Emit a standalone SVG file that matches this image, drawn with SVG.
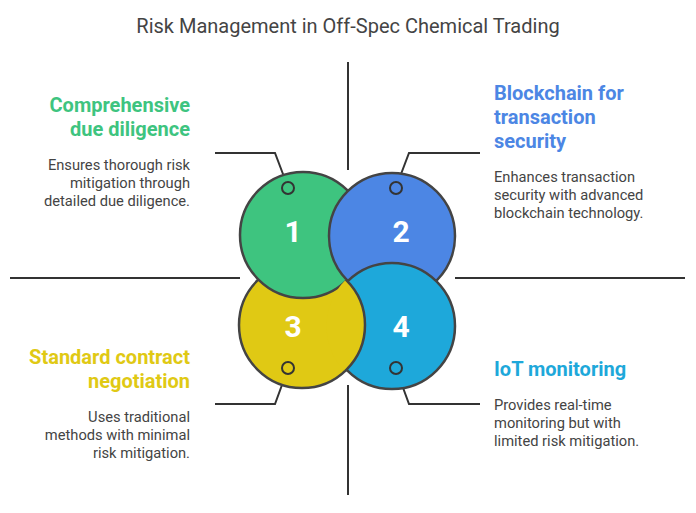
<svg xmlns="http://www.w3.org/2000/svg" width="696" height="513" viewBox="0 0 696 513">
<style>
text{font-family:Roboto,"Liberation Sans",sans-serif}
.ln{stroke:#333;stroke-width:2;fill:none}
.c{stroke:#444;stroke-width:2.5}
.num{font-size:30px;font-weight:bold;fill:#fff;text-anchor:middle}
.h{font-size:20px;font-weight:bold}
.d{font-size:14.7px;fill:#444}
.dot{fill:none;stroke:#333;stroke-width:2}
</style>
<defs><clipPath id="low"><circle cx="392" cy="326" r="65.5"/></clipPath></defs>
<rect width="696" height="513" fill="#fff"/>
<text x="348" y="33" text-anchor="middle" font-size="20" fill="#444">Risk Management in Off-Spec Chemical Trading</text>
<g id="connectors">
<path class="ln" d="M348 62V170M348 385V495M10 278H240M455 278H685"/>
<path class="ln" d="M286 182L275 153H215M398 182L409 153H480M286 374L275 404H215M398 374L409 404H480"/>
</g>
<g id="node3"><circle class="c" cx="302" cy="325" r="63" fill="#e0c914"/></g>
<g id="node1"><circle class="c" cx="303" cy="235" r="63" fill="#3ec47f"/><text class="num" x="293" y="242">1</text></g>
<g id="node2"><circle class="c" cx="392" cy="236" r="63" fill="#4c86e4"/><text class="num" x="401" y="242">2</text></g>
<g id="node4"><circle class="c" cx="392" cy="326" r="63" fill="#1ea8da"/><text class="num" x="401" y="337">4</text></g>
<g id="node3top" clip-path="url(#low)"><circle class="c" cx="302" cy="325" r="63" fill="#e0c914"/></g>
<text class="num" x="293" y="337">3</text>
<g id="dots">
<circle class="dot" cx="288" cy="188" r="6"/><circle class="dot" cx="396" cy="188" r="6"/>
<circle class="dot" cx="288" cy="368" r="6"/><circle class="dot" cx="396" cy="368" r="6"/>
</g>
<g id="t1" text-anchor="end"><text class="h" fill="#3ec47f" x="190" y="112">Comprehensive</text><text class="h" fill="#3ec47f" x="190" y="136">due diligence</text>
<text class="d" x="190" y="170">Ensures thorough risk</text><text class="d" x="190" y="188">mitigation through</text><text class="d" x="190" y="206">detailed due diligence.</text></g>
<g id="t2"><text class="h" fill="#4c86e4" x="494" y="100">Blockchain for</text><text class="h" fill="#4c86e4" x="494" y="124">transaction</text><text class="h" fill="#4c86e4" x="494" y="148">security</text>
<text class="d" x="494" y="182">Enhances transaction</text><text class="d" x="494" y="200">security with advanced</text><text class="d" x="494" y="218">blockchain technology.</text></g>
<g id="t3" text-anchor="end"><text class="h" fill="#e0c914" x="190" y="364">Standard contract</text><text class="h" fill="#e0c914" x="190" y="388">negotiation</text>
<text class="d" x="190" y="422">Uses traditional</text><text class="d" x="190" y="440">methods with minimal</text><text class="d" x="190" y="458">risk mitigation.</text></g>
<g id="t4"><text class="h" fill="#1ea8da" x="494" y="376">IoT monitoring</text>
<text class="d" x="494" y="410">Provides real-time</text><text class="d" x="494" y="428">monitoring but with</text><text class="d" x="494" y="446">limited risk mitigation.</text></g>
</svg>
